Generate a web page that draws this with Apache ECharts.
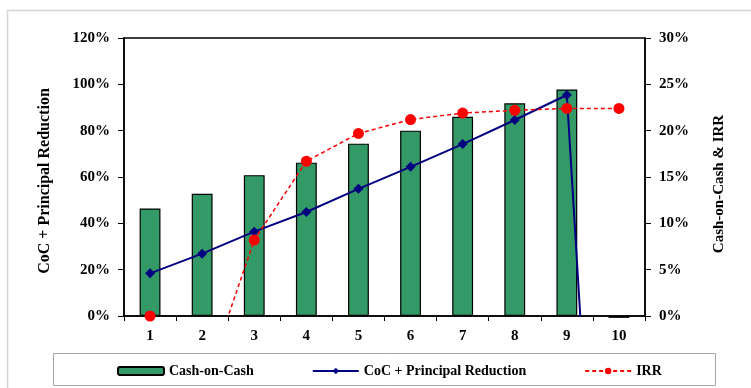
<!DOCTYPE html>
<html>
<head>
<meta charset="utf-8">
<script src="https://cdn.jsdelivr.net/npm/echarts@6/dist/echarts.min.js"></script>
<style>
  html, body { margin: 0; padding: 0; background: #fff; }
  #chart { width: 751px; height: 388px; }
</style>
</head>
<body>
<div id="chart"></div>
<script>
// Holding-period years
const years = ['1', '2', '3', '4', '5', '6', '7', '8', '9', '10'];
// Cash-on-Cash return per year (%), right axis
const cashOnCash = [11.6, 13.2, 15.2, 16.55, 18.6, 20.0, 21.5, 22.95, 24.45, -0.2];
// Cash-on-Cash plus principal reduction (%), left axis; year 10 falls far below the axis
const cocPrincipal = [18.4, 26.9, 36.4, 44.9, 54.9, 64.4, 74.2, 84.6, 95.4, -275];
// Internal rate of return (%), right axis
const irr = [0, -8.2, 8.2, 16.7, 19.7, 21.2, 21.9, 22.2, 22.4, 22.4];

const serif = 'Liberation Serif, Times New Roman, serif';
const tickFont = { fontFamily: serif, fontWeight: 'bold', fontSize: 15, color: '#000' };

const chart = echarts.init(document.getElementById('chart'), null, { renderer: 'canvas' });

chart.setOption({
  animation: false,
  backgroundColor: '#fff',
  graphic: [
    { type: 'rect', silent: true, z: -10,
      shape: { x: 7.5, y: 10.5, width: 800, height: 400 },
      style: { fill: 'none', stroke: '#d4d4d4', lineWidth: 1.5 } },
    { type: 'rect', silent: true, z: -10,
      shape: { x: 53.5, y: 353.5, width: 662, height: 32 },
      style: { fill: 'none', stroke: '#a6a6a6', lineWidth: 1 } }
  ],
  grid: {
    left: 124, right: 106, top: 38, bottom: 72,
    show: true, borderColor: '#000', borderWidth: 1.5, backgroundColor: 'transparent'
  },
  legend: {
    left: 112, top: 359,
    itemGap: 58, itemWidth: 46, itemHeight: 8,
    textStyle: { fontFamily: serif, fontWeight: 'bold', fontSize: 14, color: '#000' },
    data: ['Cash-on-Cash', 'CoC + Principal Reduction', 'IRR']
  },
  xAxis: {
    type: 'category',
    data: years,
    boundaryGap: true,
    axisLine: { lineStyle: { color: '#000', width: 1.5 } },
    axisTick: { show: true, length: 5, alignWithLabel: false, lineStyle: { color: '#000' } },
    axisLabel: Object.assign({ margin: 13 }, tickFont)
  },
  yAxis: [
    {
      type: 'value', position: 'left',
      min: 0, max: 120, interval: 20,
      name: 'CoC + Principal Reduction',
      nameLocation: 'middle', nameRotate: 90, nameGap: 71,
      nameTextStyle: { fontFamily: serif, fontWeight: 'bold', fontSize: 16, color: '#000', padding: [0, 8, 0, 0] },
      axisLine: { show: true, lineStyle: { color: '#000', width: 1.5 } },
      axisTick: { show: true, length: 6, lineStyle: { color: '#000' } },
      axisLabel: Object.assign({ margin: 14, formatter: '{value}%' }, tickFont),
      splitLine: { show: false }
    },
    {
      type: 'value', position: 'right',
      min: 0, max: 30, interval: 5,
      name: 'Cash-on-Cash & IRR',
      nameLocation: 'middle', nameRotate: 90, nameGap: 67,
      nameTextStyle: { fontFamily: serif, fontWeight: 'bold', fontSize: 15, color: '#000', padding: [0, 14, 0, 0] },
      axisLine: { show: true, lineStyle: { color: '#000', width: 1.5 } },
      axisTick: { show: true, length: 6, lineStyle: { color: '#000' } },
      axisLabel: Object.assign({ margin: 14, formatter: '{value}%' }, tickFont),
      splitLine: { show: false }
    }
  ],
  series: [
    {
      name: 'Cash-on-Cash',
      type: 'bar',
      yAxisIndex: 1,
      data: cashOnCash,
      clip: false,
      barWidth: '40%',
      itemStyle: { color: '#339966', borderColor: '#000', borderWidth: 1.2 },
      z: 1
    },
    {
      name: 'CoC + Principal Reduction',
      type: 'line',
      yAxisIndex: 0,
      data: cocPrincipal,
      clip: true,
      symbol: 'diamond', symbolSize: 10,
      lineStyle: { color: '#000080', width: 2 },
      itemStyle: { color: '#000080' },
      z: 3
    },
    {
      name: 'IRR',
      type: 'line',
      yAxisIndex: 1,
      data: irr,
      clip: true,
      symbol: 'circle', symbolSize: 11,
      lineStyle: { color: '#ff0000', width: 1.5, type: [4, 3] },
      itemStyle: { color: '#ff0000' },
      z: 4
    }
  ]
});
</script>
</body>
</html>
